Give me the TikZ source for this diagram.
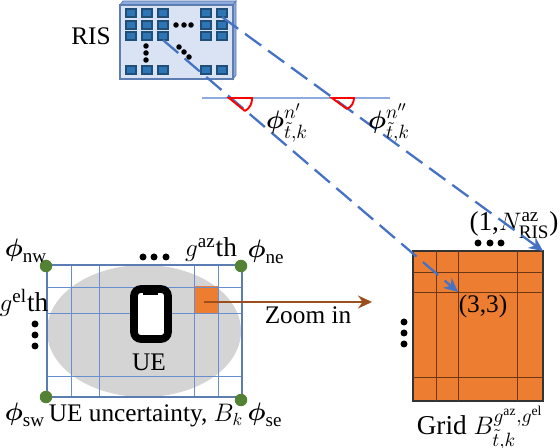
\documentclass[tikz,border=0pt]{standalone}
\usepackage{amsmath}
\usepackage{fontspec}
\setmainfont{Liberation Serif}
\usetikzlibrary{arrows.meta, shapes.geometric}
\definecolor{risface}{HTML}{DAE3F3}
\definecolor{risedge}{HTML}{5B7DB1}
\definecolor{risside}{HTML}{8FAADC}
\definecolor{elemout}{HTML}{1F4E79}
\definecolor{elemin}{HTML}{2E75B6}
\definecolor{beam}{HTML}{4472C4}
\definecolor{cornergreen}{HTML}{548235}
\definecolor{cellorange}{HTML}{ED7D31}
\definecolor{zoombrown}{HTML}{9C4F1C}
\tikzset{
  element/.style={rectangle, draw=elemout, fill=elemin, line width=1.3pt, minimum width=0.2cm, minimum height=0.17cm, inner sep=0pt},
  bigdot/.style={circle, fill=black, minimum size=0.14cm, inner sep=0pt},
  corner/.style={circle, fill=cornergreen, minimum size=0.25cm, inner sep=0pt},
  beamline/.style={beam, line width=1.3pt, dash pattern=on 0.4cm off 0.17cm},
  anglemark/.style={red, line width=1.1pt},
  gridline/.style={beam!80!white, line width=0.5pt},
  celline/.style={black!55!cellorange, line width=0.45pt},
  label/.style={inner sep=0pt, font=\fontsize{14.4}{16}\selectfont},
  mathlabel/.style={inner sep=0pt, font=\fontsize{15.5}{18}\selectfont}
}
\begin{document}
\begin{tikzpicture}[x=0.02cm, y=-0.02cm, >={Stealth[length=0.28cm, width=0.26cm]}]
  \useasboundingbox (0,0) rectangle (560,448);

  % RIS panel
  \fill[risside, draw=risedge, line width=0.5pt] (233,5) -- (236,1) -- (236,75) -- (233,79) -- cycle;
  \fill[risside, draw=risedge, line width=0.5pt] (120,5) -- (123,1) -- (236,1) -- (233,5) -- cycle;
  \node[rectangle, draw=risedge, fill=risface, line width=0.8pt, minimum width=2.26cm, minimum height=1.48cm, inner sep=0pt] (ris) at (176.5,42) {};
  \foreach \col/\x in {1/131, 2/147, 3/163, 4/206, 5/222}
    \foreach \row/\y in {1/13, 2/25, 3/36, 4/70}
      \node[element] (e\row\col) at (\x,\y) {};
  \node[label] (rislabel) at (91,36) {RIS};

  % dots on the panel
  \foreach \x/\y in {176/25, 184/25, 191/25, 146/46, 146/53, 146/60, 179/47, 184/52, 189/57}
    \node[circle, fill=black, minimum size=0.11cm, inner sep=0pt] at (\x,\y) {};

  % UE uncertainty area
  \node[ellipse, fill=black!17, minimum width=3.88cm, minimum height=2.64cm, inner sep=0pt] (area) at (144,331) {};
  \node[rectangle, fill=cellorange, minimum width=0.48cm, minimum height=0.56cm, inner sep=0pt] (cell) at (206,300) {};
  \foreach \x in {71, 99, 194, 218}
    \draw[gridline] (\x,265) -- (\x,397);
  \foreach \y in {287, 313, 376}
    \draw[gridline] (47,\y) -- (242,\y);
  \node[rectangle, draw=risedge, line width=0.8pt, minimum width=3.9cm, minimum height=2.64cm, inner sep=0pt] (box) at (144.5,331) {};

  \node[corner] (nw) at (46,266) {};
  \node[corner] (ne) at (241,266) {};
  \node[corner] (sw) at (46,397) {};
  \node[corner] (se) at (241,400) {};

  % phone
  \draw[black, fill=white, line width=4.4pt, rounded corners=0.14cm] (134,289) rectangle (168,339);
  \fill[black] (143,291) rectangle (158,295);
  \node[label] (ue) at (149,362) {UE};

  % dots round the area
  \foreach \x/\y in {143/257, 154/257, 166/257, 35/324, 35/335, 35/346}
    \node[bigdot] at (\x,\y) {};

  % texts round the area
  \node[mathlabel] at (26,251) {$\boldsymbol{\phi}_{\mathrm{nw}}$};
  \node[mathlabel] at (211,250) {$g^{\mathrm{az}}$th};
  \node[mathlabel] at (266,252) {$\boldsymbol{\phi}_{\mathrm{ne}}$};
  \node[mathlabel] at (24,303) {$g^{\mathrm{el}}$th};
  \node[mathlabel] at (25,415) {$\boldsymbol{\phi}_{\mathrm{sw}}$};
  \node[label] at (146,416) {UE uncertainty, $B_k$};
  \node[mathlabel] at (265,415) {$\boldsymbol{\phi}_{\mathrm{se}}$};

  % zoomed grid
  \node[rectangle, draw=black!80, fill=cellorange, line width=0.9pt, minimum width=2.6cm, minimum height=3cm, inner sep=0pt] (grid) at (478,326) {};
  \foreach \x in {436, 458, 517}
    \draw[celline] (\x,251) -- (\x,401);
  \foreach \y in {272, 292, 377}
    \draw[celline] (413,\y) -- (543,\y);
  \coordinate (g33) at (458,292);
  \coordinate (g1n) at (543,251);

  \foreach \x/\y in {478/243, 490/243, 501/243, 404/322, 404/333, 404/344}
    \node[bigdot] at (\x,\y) {};
  \node[label] at (483,306) {(3,3)};
  \node[mathlabel] at (514,225) {(1,$N^{\mathrm{az}}_{\mathrm{RIS}}$)};
  \node[mathlabel] at (480,428) {Grid $B^{g^{\mathrm{az}},g^{\mathrm{el}}}_{\tilde{t},k}$};

  % reference line
  \coordinate (refleft) at (202,98);
  \coordinate (refright) at (390,98);
  \draw[risside, line width=0.8pt] (refleft) -- (refright);

  % beams
  \draw[beamline, ->] (e33.center) ++(0,4) -- (g33);
  \draw[beamline, ->] (e15.center) ++(0,4) -- (g1n);

  % angles
  \draw[anglemark] (245,111) -- (229,98) -- (252,98) to[bend left=30] (245,111);
  \draw[anglemark] (347,109) -- (332,98) -- (354,98) to[bend left=30] (347,109);
  \node[mathlabel] at (287,123) {$\boldsymbol{\phi}^{n'}_{\tilde{t},k}$};
  \node[mathlabel] at (389,123) {$\boldsymbol{\phi}^{n''}_{\tilde{t},k}$};

  % zoom arrow
  \coordinate (zoomend) at (372,302);
  \draw[zoombrown, line width=1pt, ->] (cell.center) ++(-2,2) -- (zoomend);
  \node[label] at (308,315) {Zoom in};
\end{tikzpicture}
\end{document}
